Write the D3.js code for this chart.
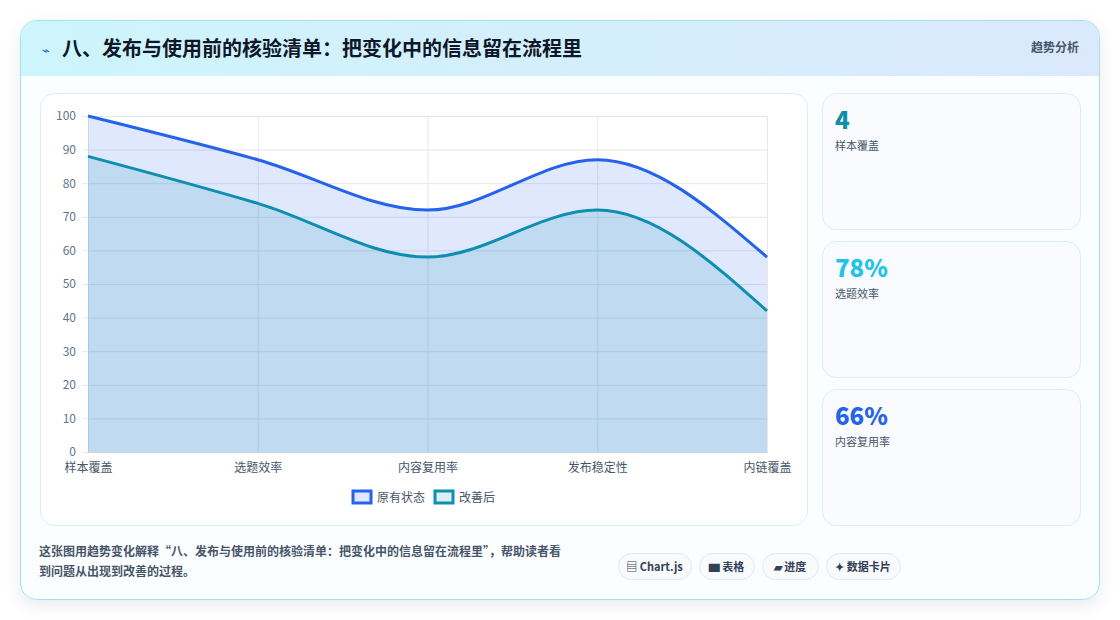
<!DOCTYPE html>
<html><head><meta charset="utf-8">
<script src="https://cdn.jsdelivr.net/npm/d3@7/dist/d3.min.js"></script>
<style>
body{margin:0;background:#fff;font-family:"Noto Sans CJK SC","Noto Sans",sans-serif;}
svg text{font-family:"Noto Sans CJK SC","Noto Sans",sans-serif;}
</style></head>
<body><svg id="chart" width="1120" height="620"></svg>
<script>
const categories = ["样本覆盖", "选题效率", "内容复用率", "发布稳定性", "内链覆盖"];
const before = [100, 87, 72, 87, 58];
const after = [88, 74, 58, 72, 42];
const yTicks = [0, 10, 20, 30, 40, 50, 60, 70, 80, 90, 100];
const cards = [
  { value: "4", label: "样本覆盖", color: "#0e8fa8" },
  { value: "78%", label: "选题效率", color: "#22c3e6" },
  { value: "66%", label: "内容复用率", color: "#2563eb" }
];
const pills = ["▤ Chart.js", "▆ 表格", "▰ 进度", "✦ 数据卡片"];

const svg = d3.select("#chart");
const defs = svg.append("defs");
const hg = defs.append("linearGradient").attr("id", "hg");
hg.append("stop").attr("offset", "0").attr("stop-color", "#cdf5fb");
hg.append("stop").attr("offset", "1").attr("stop-color", "#dbe9fd");
const sh = defs.append("filter").attr("id", "sh").attr("x", "-10%").attr("y", "-10%").attr("width", "120%").attr("height", "130%");
sh.append("feDropShadow").attr("dx", 0).attr("dy", 6).attr("stdDeviation", 8).attr("flood-color", "#000").attr("flood-opacity", 0.08);

// outer card
svg.append("rect").attr("x", 20.5).attr("y", 20.5).attr("width", 1079).attr("height", 579).attr("rx", 16)
  .attr("fill", "#fbfeff").attr("stroke", "#9fe3ee").attr("filter", "url(#sh)");
svg.append("clipPath").attr("id", "cc").append("rect").attr("x", 21).attr("y", 21).attr("width", 1078).attr("height", 578).attr("rx", 16);
svg.append("rect").attr("x", 21).attr("y", 21).attr("width", 1078).attr("height", 55).attr("fill", "url(#hg)").attr("clip-path", "url(#cc)");
svg.append("text").attr("x", 42).attr("y", 55).attr("font-size", 13).attr("fill", "#2563eb").text("⌁");
svg.append("text").attr("x", 62).attr("y", 56).attr("font-size", 20).attr("font-weight", 700).attr("fill", "#0f172a")
  .text("八、发布与使用前的核验清单：把变化中的信息留在流程里");
svg.append("text").attr("x", 1079).attr("y", 52).attr("text-anchor", "end").attr("font-size", 12).attr("font-weight", 700).attr("fill", "#475569").text("趋势分析");

// chart panel
svg.append("rect").attr("x", 40.5).attr("y", 93.5).attr("width", 767).attr("height", 432).attr("rx", 14).attr("fill", "#fff").attr("stroke", "#dbeef3");

const x = d3.scalePoint().domain(categories).range([88, 767]);
const y = d3.scaleLinear().domain([0, 100]).range([452, 116]);

const grid = svg.append("g");
grid.selectAll(".h").data(yTicks).join("line").attr("x1", 88).attr("x2", 767)
  .attr("y1", d => y(d) + 0.5).attr("y2", d => y(d) + 0.5).attr("stroke", "#e5e7eb");
grid.selectAll(".v").data(categories).join("line").attr("y1", 116).attr("y2", 452)
  .attr("x1", d => x(d) + 0.5).attr("x2", d => x(d) + 0.5).attr("stroke", "#e5e7eb");

const series = [
  { name: "原有状态", values: before, stroke: "#2563eb", fill: "rgba(37,99,235,0.15)" },
  { name: "改善后", values: after, stroke: "#0e8fb0", fill: "rgba(8,145,178,0.14)" }
];
const area = d3.area().x((d, i) => x(categories[i])).y0(y(0)).y1(d => y(d)).curve(d3.curveMonotoneX);
const line = d3.line().x((d, i) => x(categories[i])).y(d => y(d)).curve(d3.curveMonotoneX);
series.forEach(s => {
  svg.append("path").attr("d", area(s.values)).attr("fill", s.fill);
});
series.forEach(s => {
  svg.append("path").attr("d", line(s.values)).attr("fill", "none").attr("stroke", s.stroke).attr("stroke-width", 3);
});

const ya = svg.append("g").attr("transform", "translate(88,0)")
  .call(d3.axisLeft(y).tickValues(yTicks).tickSize(6).tickPadding(6));
ya.select(".domain").remove();
ya.selectAll("line").attr("stroke", "#e5e7eb");
ya.selectAll("text").attr("font-size", 12).attr("fill", "#64748b");
const xa = svg.append("g").attr("transform", "translate(0,452)").call(d3.axisBottom(x).tickSize(0).tickPadding(11));
xa.select(".domain").attr("stroke", "#cbd5e1");
xa.selectAll("text").attr("font-size", 12).attr("fill", "#475569");

// legend
const lg = svg.append("g").attr("transform", "translate(352,490)");
[[0, series[0]], [82, series[1]]].forEach(([dx, s]) => {
  lg.append("rect").attr("x", dx + 1).attr("y", 1).attr("width", 18).attr("height", 12).attr("fill", s.fill).attr("stroke", s.stroke).attr("stroke-width", 3);
  lg.append("text").attr("x", dx + 25).attr("y", 12).attr("font-size", 12).attr("fill", "#475569").text(s.name);
});

// side cards
cards.forEach((c, i) => {
  const top = 93 + i * 148;
  svg.append("rect").attr("x", 822.5).attr("y", top + 0.5).attr("width", 258).attr("height", 136).attr("rx", 14)
    .attr("fill", "#f9fbff").attr("stroke", "#dbeef3");
  svg.append("text").attr("x", 835).attr("y", top + 36).attr("font-size", 24).attr("font-weight", 800).attr("fill", c.color).text(c.value);
  svg.append("text").attr("x", 835).attr("y", top + 57).attr("font-size", 11).attr("fill", "#475569").text(c.label);
});

// footer
svg.append("text").attr("x", 39).attr("y", 556).attr("font-size", 12).attr("font-weight", 600).attr("fill", "#475569")
  .text("这张图用趋势变化解释“八、发布与使用前的核验清单：把变化中的信息留在流程里”，帮助读者看");
svg.append("text").attr("x", 39).attr("y", 576).attr("font-size", 12).attr("font-weight", 600).attr("fill", "#475569").text("到问题从出现到改善的过程。");
const pillX = [618, 699, 762, 826], pillW = [73, 55, 56, 74];
pills.forEach((p, i) => {
  svg.append("rect").attr("x", pillX[i] + 0.5).attr("y", 553.5).attr("width", pillW[i]).attr("height", 26).attr("rx", 13)
    .attr("fill", "#f8fafc").attr("stroke", "#e2e8f0");
  svg.append("text").attr("x", pillX[i] + pillW[i] / 2).attr("y", 571).attr("text-anchor", "middle")
    .attr("font-size", 11).attr("font-weight", 700).attr("fill", "#334155").text(p);
});
</script></body></html>
